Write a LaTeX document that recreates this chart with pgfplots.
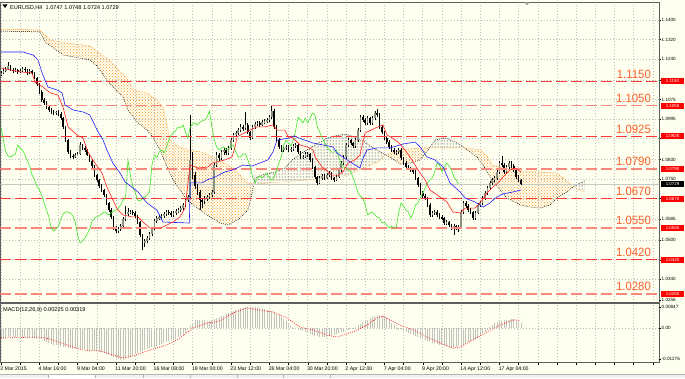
\documentclass[border=0pt]{standalone}
\usepackage{fontspec}
\setmainfont{Liberation Sans}
\usepackage{graphicx}
\usepackage{pgfplots}
\pgfplotsset{compat=1.18}
\usepackage{pgfplotstable}
\usetikzlibrary{patterns,backgrounds}

\definecolor{bg}{RGB}{255,255,240}
\definecolor{gridc}{RGB}{190,190,190}
\definecolor{tenkan}{RGB}{255,30,30}
\definecolor{kijun}{RGB}{30,30,255}
\definecolor{chikou}{RGB}{60,230,40}
\definecolor{sandy}{RGB}{245,150,40}
\definecolor{lvlred}{RGB}{255,55,55}
\definecolor{lvlpink}{RGB}{248,135,125}
\definecolor{lbl}{RGB}{252,95,40}
\definecolor{bull}{RGB}{135,145,125}
\definecolor{frame}{RGB}{95,95,95}
\definecolor{bidc}{RGB}{200,200,195}
\definecolor{histc}{RGB}{195,195,190}

% price bars (H4) and MACD main value per bar
\pgfplotstableread{
i o h l c m
0 1.1175 1.1192 1.1170 1.1183 -0.0040
1 1.1183 1.1198 1.1178 1.1192 -0.0040
2 1.1192 1.1207 1.1186 1.1200 -0.0039
3 1.1200 1.1228 1.1195 1.1212 -0.0038
4 1.1212 1.1218 1.1190 1.1196 -0.0038
5 1.1196 1.1203 1.1184 1.1192 -0.0038
6 1.1192 1.1204 1.1186 1.1196 -0.0037
7 1.1196 1.1200 1.1180 1.1188 -0.0037
8 1.1188 1.1199 1.1182 1.1192 -0.0037
9 1.1192 1.1208 1.1186 1.1200 -0.0038
10 1.1200 1.1206 1.1188 1.1196 -0.0038
11 1.1196 1.1201 1.1175 1.1188 -0.0039
12 1.1188 1.1200 1.1180 1.1192 -0.0040
13 1.1192 1.1197 1.1176 1.1183 -0.0041
14 1.1183 1.1188 1.1158 1.1163 -0.0042
15 1.1163 1.1168 1.1132 1.1138 -0.0043
16 1.1138 1.1142 1.1098 1.1106 -0.0044
17 1.1106 1.1112 1.1065 1.1073 -0.0046
18 1.1073 1.1082 1.1052 1.1061 -0.0052
19 1.1061 1.1068 1.1038 1.1044 -0.0058
20 1.1044 1.1050 1.1025 1.1032 -0.0063
21 1.1032 1.1040 1.1016 1.1024 -0.0066
22 1.1024 1.1032 1.1012 1.1020 -0.0068
23 1.1020 1.1030 1.1012 1.1024 -0.0070
24 1.1024 1.1032 1.1008 1.1016 -0.0072
25 1.1016 1.1022 1.0992 1.0999 -0.0074
26 1.0999 1.1004 1.0956 1.0963 -0.0076
27 1.0963 1.0968 1.0900 1.0909 -0.0079
28 1.0909 1.0915 1.0852 1.0860 -0.0082
29 1.0860 1.0868 1.0836 1.0844 -0.0083
30 1.0844 1.0852 1.0832 1.0840 -0.0084
31 1.0840 1.0856 1.0834 1.0848 -0.0084
32 1.0848 1.0860 1.0842 1.0852 -0.0085
33 1.0852 1.0900 1.0848 1.0889 -0.0086
34 1.0889 1.0895 1.0870 1.0877 -0.0087
35 1.0877 1.0884 1.0862 1.0869 -0.0088
36 1.0869 1.0874 1.0842 1.0848 -0.0089
37 1.0848 1.0853 1.0818 1.0824 -0.0090
38 1.0824 1.0830 1.0796 1.0803 -0.0091
39 1.0803 1.0808 1.0760 1.0766 -0.0093
40 1.0766 1.0772 1.0738 1.0746 -0.0095
41 1.0746 1.0752 1.0714 1.0721 -0.0097
42 1.0721 1.0728 1.0698 1.0705 -0.0100
43 1.0705 1.0710 1.0678 1.0685 -0.0103
44 1.0685 1.0690 1.0645 1.0652 -0.0106
45 1.0652 1.0658 1.0616 1.0623 -0.0109
46 1.0623 1.0630 1.0588 1.0595 -0.0113
47 1.0595 1.0600 1.0540 1.0549 -0.0118
48 1.0549 1.0556 1.0528 1.0537 -0.0122
49 1.0537 1.0552 1.0530 1.0545 -0.0127
50 1.0545 1.0565 1.0538 1.0558 -0.0131
51 1.0558 1.0595 1.0552 1.0586 -0.0129
52 1.0586 1.0640 1.0580 1.0607 -0.0127
53 1.0607 1.0630 1.0600 1.0615 -0.0124
54 1.0615 1.0624 1.0606 1.0615 -0.0117
55 1.0615 1.0622 1.0603 1.0611 -0.0111
56 1.0611 1.0618 1.0592 1.0599 -0.0107
57 1.0599 1.0604 1.0566 1.0574 -0.0102
58 1.0574 1.0580 1.0512 1.0521 -0.0098
59 1.0521 1.0526 1.0459 1.0488 -0.0093
60 1.0488 1.0505 1.0470 1.0496 -0.0089
61 1.0496 1.0515 1.0488 1.0508 -0.0085
62 1.0508 1.0532 1.0500 1.0525 -0.0082
63 1.0525 1.0552 1.0518 1.0545 -0.0079
64 1.0545 1.0585 1.0540 1.0578 -0.0076
65 1.0578 1.0598 1.0570 1.0590 -0.0073
66 1.0590 1.0603 1.0582 1.0595 -0.0071
67 1.0595 1.0608 1.0586 1.0599 -0.0067
68 1.0599 1.0615 1.0592 1.0607 -0.0062
69 1.0607 1.0624 1.0600 1.0615 -0.0058
70 1.0615 1.0622 1.0602 1.0611 -0.0055
71 1.0611 1.0618 1.0596 1.0603 -0.0051
72 1.0603 1.0620 1.0596 1.0611 -0.0047
73 1.0611 1.0628 1.0604 1.0619 -0.0043
74 1.0619 1.0632 1.0610 1.0623 -0.0038
75 1.0623 1.0640 1.0615 1.0631 -0.0034
76 1.0631 1.0652 1.0622 1.0644 -0.0029
77 1.0644 1.0672 1.0636 1.0664 -0.0022
78 1.0664 1.0685 1.0655 1.0676 -0.0008
79 1.0676 1.1012 1.0668 1.0828 0.0008
80 1.0828 1.0860 1.0750 1.0766 0.0022
81 1.0766 1.0780 1.0710 1.0721 0.0033
82 1.0721 1.0728 1.0685 1.0697 0.0033
83 1.0697 1.0705 1.0625 1.0664 0.0033
84 1.0664 1.0672 1.0630 1.0660 0.0032
85 1.0660 1.0680 1.0648 1.0672 0.0031
86 1.0672 1.0685 1.0660 1.0676 0.0030
87 1.0676 1.0694 1.0668 1.0685 0.0029
88 1.0685 1.0705 1.0678 1.0697 0.0031
89 1.0697 1.0815 1.0690 1.0807 0.0035
90 1.0807 1.0860 1.0798 1.0848 0.0040
91 1.0848 1.0855 1.0825 1.0836 0.0045
92 1.0836 1.0868 1.0828 1.0860 0.0048
93 1.0860 1.0877 1.0850 1.0869 0.0051
94 1.0869 1.0875 1.0848 1.0856 0.0056
95 1.0856 1.0885 1.0850 1.0877 0.0062
96 1.0877 1.0917 1.0870 1.0909 0.0067
97 1.0909 1.0938 1.0900 1.0930 0.0071
98 1.0930 1.0946 1.0922 1.0938 0.0075
99 1.0938 1.0958 1.0930 1.0950 0.0079
100 1.0950 1.0975 1.0942 1.0963 0.0082
101 1.0963 1.0970 1.0948 1.0958 0.0083
102 1.0958 1.1024 1.0950 1.0971 0.0084
103 1.0971 1.0978 1.0935 1.0942 0.0085
104 1.0942 1.0948 1.0910 1.0918 0.0086
105 1.0918 1.0970 1.0912 1.0963 0.0086
106 1.0963 1.0983 1.0955 1.0975 0.0086
107 1.0975 1.0988 1.0966 1.0979 0.0085
108 1.0979 1.0986 1.0963 1.0971 0.0083
109 1.0971 1.0991 1.0965 1.0983 0.0080
110 1.0983 1.0996 1.0975 1.0987 0.0078
111 1.0987 1.1000 1.0978 1.0991 0.0075
112 1.0991 1.1012 1.0985 1.1003 0.0072
113 1.1003 1.1048 1.0996 1.1028 0.0070
114 1.1028 1.1035 1.0955 1.0963 0.0064
115 1.0963 1.0970 1.0900 1.0909 0.0058
116 1.0909 1.0916 1.0872 1.0881 0.0052
117 1.0881 1.0888 1.0860 1.0869 0.0046
118 1.0869 1.0885 1.0862 1.0877 0.0037
119 1.0877 1.0890 1.0870 1.0881 0.0027
120 1.0881 1.0888 1.0862 1.0869 0.0016
121 1.0869 1.0882 1.0862 1.0873 0.0007
122 1.0873 1.0893 1.0866 1.0885 0.0002
123 1.0885 1.0898 1.0877 1.0889 -0.0002
124 1.0889 1.0895 1.0852 1.0860 -0.0006
125 1.0860 1.0866 1.0832 1.0840 -0.0009
126 1.0840 1.0850 1.0830 1.0840 -0.0012
127 1.0840 1.0860 1.0834 1.0852 -0.0017
128 1.0852 1.0862 1.0842 1.0852 -0.0020
129 1.0852 1.0858 1.0820 1.0828 -0.0024
130 1.0828 1.0834 1.0790 1.0799 -0.0029
131 1.0799 1.0805 1.0750 1.0758 -0.0033
132 1.0758 1.0764 1.0725 1.0734 -0.0034
133 1.0734 1.0762 1.0728 1.0754 -0.0035
134 1.0754 1.0770 1.0745 1.0762 -0.0036
135 1.0762 1.0770 1.0746 1.0754 -0.0036
136 1.0754 1.0774 1.0748 1.0766 -0.0035
137 1.0766 1.0783 1.0758 1.0774 -0.0033
138 1.0774 1.0780 1.0746 1.0754 -0.0030
139 1.0754 1.0760 1.0738 1.0746 -0.0027
140 1.0746 1.0766 1.0740 1.0758 -0.0024
141 1.0758 1.0795 1.0752 1.0787 -0.0022
142 1.0787 1.0823 1.0780 1.0815 -0.0018
143 1.0815 1.0848 1.0808 1.0840 -0.0016
144 1.0840 1.0897 1.0832 1.0889 -0.0010
145 1.0889 1.0918 1.0880 1.0909 -0.0007
146 1.0909 1.0915 1.0888 1.0897 -0.0003
147 1.0897 1.0903 1.0876 1.0885 0.0001
148 1.0885 1.0917 1.0878 1.0909 0.0005
149 1.0909 1.0958 1.0902 1.0950 0.0011
150 1.0950 1.1012 1.0942 1.1003 0.0017
151 1.1003 1.1010 1.0982 1.0991 0.0023
152 1.0991 1.0998 1.0970 1.0979 0.0029
153 1.0979 1.1008 1.0972 1.0999 0.0033
154 1.0999 1.1005 1.0972 1.0979 0.0039
155 1.0979 1.1008 1.0972 1.0999 0.0044
156 1.0999 1.1028 1.0990 1.1020 0.0047
157 1.1020 1.1036 1.1004 1.1012 0.0049
158 1.1012 1.1018 1.0955 1.0963 0.0053
159 1.0963 1.0970 1.0935 1.0942 0.0051
160 1.0942 1.0948 1.0910 1.0918 0.0049
161 1.0918 1.0926 1.0894 1.0901 0.0042
162 1.0901 1.0908 1.0874 1.0881 0.0032
163 1.0881 1.0888 1.0860 1.0869 0.0021
164 1.0869 1.0876 1.0852 1.0860 0.0011
165 1.0860 1.0870 1.0850 1.0860 0.0002
166 1.0860 1.0877 1.0852 1.0869 -0.0005
167 1.0869 1.0875 1.0828 1.0836 -0.0010
168 1.0836 1.0842 1.0808 1.0815 -0.0014
169 1.0815 1.0822 1.0792 1.0799 -0.0018
170 1.0799 1.0806 1.0786 1.0795 -0.0022
171 1.0795 1.0800 1.0780 1.0787 -0.0026
172 1.0787 1.0794 1.0772 1.0779 -0.0029
173 1.0779 1.0785 1.0746 1.0754 -0.0033
174 1.0754 1.0760 1.0718 1.0725 -0.0037
175 1.0725 1.0732 1.0685 1.0693 -0.0041
176 1.0693 1.0700 1.0672 1.0680 -0.0045
177 1.0680 1.0688 1.0664 1.0672 -0.0049
178 1.0672 1.0678 1.0636 1.0644 -0.0053
179 1.0644 1.0650 1.0595 1.0603 -0.0056
180 1.0603 1.0620 1.0596 1.0611 -0.0060
181 1.0611 1.0624 1.0603 1.0615 -0.0063
182 1.0615 1.0622 1.0596 1.0603 -0.0066
183 1.0603 1.0610 1.0588 1.0595 -0.0069
184 1.0595 1.0602 1.0582 1.0590 -0.0071
185 1.0590 1.0596 1.0562 1.0570 -0.0074
186 1.0570 1.0582 1.0562 1.0574 -0.0077
187 1.0574 1.0580 1.0554 1.0562 -0.0078
188 1.0562 1.0568 1.0540 1.0549 -0.0078
189 1.0549 1.0565 1.0521 1.0558 -0.0078
190 1.0558 1.0564 1.0540 1.0549 -0.0078
191 1.0549 1.0562 1.0532 1.0554 -0.0075
192 1.0554 1.0623 1.0548 1.0615 -0.0072
193 1.0615 1.0660 1.0608 1.0652 -0.0069
194 1.0652 1.0658 1.0632 1.0639 -0.0064
195 1.0639 1.0646 1.0615 1.0623 -0.0059
196 1.0623 1.0630 1.0608 1.0615 -0.0054
197 1.0615 1.0620 1.0582 1.0590 -0.0049
198 1.0590 1.0619 1.0584 1.0611 -0.0044
199 1.0611 1.0652 1.0605 1.0644 -0.0037
200 1.0644 1.0660 1.0636 1.0652 -0.0029
201 1.0652 1.0680 1.0645 1.0672 -0.0022
202 1.0672 1.0701 1.0665 1.0693 -0.0015
203 1.0693 1.0721 1.0686 1.0713 -0.0007
204 1.0713 1.0742 1.0706 1.0734 0.0003
205 1.0734 1.0754 1.0726 1.0746 0.0013
206 1.0746 1.0762 1.0738 1.0754 0.0020
207 1.0754 1.0787 1.0746 1.0779 0.0024
208 1.0779 1.0823 1.0772 1.0815 0.0027
209 1.0815 1.0844 1.0800 1.0807 0.0029
210 1.0807 1.0814 1.0772 1.0779 0.0031
211 1.0779 1.0807 1.0772 1.0799 0.0032
212 1.0799 1.0824 1.0792 1.0815 0.0034
213 1.0815 1.0822 1.0796 1.0803 0.0035
214 1.0803 1.0810 1.0780 1.0787 0.0037
215 1.0787 1.0794 1.0750 1.0758 0.0031
216 1.0758 1.0765 1.0738 1.0746 0.0027
217 1.0747 1.0748 1.0724 1.0729 0.0022
}\candles

% MACD signal line
\pgfplotstableread{
i s
0 -0.0041
7.9 -0.0039
16.3 -0.0037
20.5 -0.0045
27.5 -0.0069
34.2 -0.0090
41.3 -0.0094
46.7 -0.0110
50.9 -0.0122
55.1 -0.0114
62.2 -0.0090
69.3 -0.0069
74.7 -0.0041
80.1 0.0000
86.0 0.0020
91.4 0.0029
96.8 0.0061
102.7 0.0082
108.1 0.0073
113.5 0.0065
119.4 0.0041
124.8 0.0004
130.2 -0.0008
136.1 -0.0029
140.2 -0.0037
146.9 -0.0016
152.8 0.0012
156.9 0.0041
159.4 0.0049
162.4 0.0033
166.5 0.0012
172.0 -0.0008
177.8 -0.0037
183.2 -0.0061
188.6 -0.0082
191.6 -0.0078
197.0 -0.0049
202.8 -0.0016
208.3 0.0012
213.7 0.0033
217.0 0.0032
}\signal

\tikzset{tag/.style={anchor=west, fill=red, text=white, inner sep=0pt, minimum width=23pt, minimum height=6pt, font=\fontsize{4.4}{4.5}\selectfont}}

% MACD panel is drawn in the same axis: value v is placed at 1.01408 + 1.00123 v
\begin{document}
\begin{tikzpicture}[x=1pt,y=1pt]
\begin{axis}[
  width=658.5pt, height=360.7pt, scale only axis,
  xmin=-0.2, xmax=274.6,
  ymin=0.99989, ymax=1.14736,
  axis line style={draw=frame, line width=0.8pt},
  xtick={0,8,...,272},
  xticklabels={{2 Mar 2015},{},{4 Mar 16:00},{},{9 Mar 04:00},{},{11 Mar 20:00},{},{16 Mar 08:00},{},{19 Mar 00:00},{},{23 Mar 12:00},{},{26 Mar 04:00},{},{30 Mar 20:00},{},{2 Apr 12:00},{},{7 Apr 04:00},{},{9 Apr 20:00},{},{14 Apr 12:00},{},{17 Apr 04:00},{},{},{},{},{},{},{},{}},
  xtick pos=bottom, ytick pos=right, yticklabel pos=right,
  tick align=outside, major tick length=2pt,
  xtick style={draw=black, line width=0.4pt},
  ytick style={draw=black, line width=0.4pt},
  xticklabel style={font=\fontsize{5.2}{6}\selectfont, anchor=north west, inner sep=0pt, xshift=-0.8pt, yshift=-1.5pt},
  ytick={1.1400,1.1320,1.1240,1.1155,1.1075,1.0995,1.0915,1.0830,1.0750,1.0670,1.0585,1.0500,1.0420,1.0340},
  yticklabels={1.1400,1.1320,1.1240,,1.1075,1.0995,,1.0830,1.0750,,1.0585,1.0500,,1.0340},
  extra y ticks={1.0256,1.02256,1.01408,1.00130},
  extra y tick labels={1.0256,0.00847,0.00,-0.01276},
  extra y tick style={grid=none},
  yticklabel style={font=\fontsize{4.6}{5}\selectfont, anchor=west, inner sep=0.5pt},
  grid=major,
  major grid style={draw=gridc, dash pattern=on 1pt off 2pt, line width=0.5pt},
]
% --- Ichimoku cloud areas (between Senkou Span A and Span B), one area per stretch
\addplot[pattern=crosshatch dots, pattern color=sandy, draw=none, forget plot] coordinates {
(0,1.1363) (16.3,1.1359) (20.5,1.1318) (27.5,1.1306) (37.1,1.1294) (40.5,1.1269) (46.7,1.1224)
(49.7,1.1188) (52.6,1.1163) (55.1,1.1114) (60.9,1.1102) (65.1,1.1073) (67.6,1.1044) (69.3,1.0971)
(70.5,1.0909) (72.6,1.0889) (78.0,1.0869) (83.9,1.0860) (89.3,1.0836) (96.4,1.0799) (98.9,1.0774)
(103.1,1.0734) (105.55,1.0731)
(104.8,1.0693) (103.1,1.0623) (98.9,1.0582) (94.7,1.0562) (91.4,1.0570) (87.2,1.0595) (83.1,1.0623)
(77.6,1.0664) (73.9,1.0717) (71.8,1.0746) (69.3,1.0799) (66.4,1.0869) (63.4,1.0922) (60.9,1.0950)
(56.8,1.0983) (53.0,1.1032) (50.9,1.1085) (46.7,1.1126) (44.2,1.1155) (40.1,1.1212) (37.1,1.1237)
(25.9,1.1257) (18.4,1.1310) (16.3,1.1351) (0,1.1355)};
\addplot[pattern=dots, pattern color=black, draw=none, forget plot] coordinates {
(105.55,1.0731) (106.0,1.0754) (108.9,1.0766) (114.4,1.0779) (118.5,1.0795) (121.5,1.0828)
(125.6,1.0856) (129.0,1.0877) (132.3,1.0897) (136.5,1.0918) (139.4,1.0926) (143.6,1.0934)
(147.7,1.0922) (151.9,1.0901) (154.8,1.0881) (158.2,1.0860) (160.6,1.0849)
(160.3,1.0848) (157.3,1.0819) (151.1,1.0795) (144.4,1.0766) (137.3,1.0754) (128.0,1.0746) (106.0,1.0729)};
\addplot[pattern=crosshatch dots, pattern color=sandy, draw=none, forget plot] coordinates {
(160.6,1.0849) (166.5,1.0869) (174.9,1.0877) (178.8,1.0877)
(178.2,1.0869) (174.9,1.0828) (170.7,1.0815) (166.5,1.0811) (162.4,1.0840)};
\addplot[pattern=dots, pattern color=black, draw=none, forget plot] coordinates {
(178.8,1.0877) (181.1,1.0909) (185.3,1.0918) (189.5,1.0901) (192.4,1.0885) (193.5,1.0877)};
\addplot[pattern=crosshatch dots, pattern color=sandy, draw=none, forget plot] coordinates {
(193.5,1.0877) (194.5,1.0877) (199.9,1.0869) (202.8,1.0844) (204.9,1.0807) (211.2,1.0791)
(216.6,1.0783) (225.0,1.0779) (232.1,1.0774) (234.6,1.0754) (238.3,1.0725) (239.0,1.0720)
(236.2,1.0697) (232.5,1.0676) (229.1,1.0644) (225.0,1.0631) (220.8,1.0635) (216.6,1.0644)
(211.2,1.0672) (208.3,1.0705) (204.9,1.0746) (202.0,1.0795) (198.7,1.0840) (195.7,1.0860)};
\addplot[pattern=dots, pattern color=black, draw=none, forget plot] coordinates {
(239.0,1.0720) (239.6,1.0725) (243.7,1.0742) (243.7,1.0697) (240.8,1.0705)};
% Senkou Span A (black dotted)
\addplot[black, line width=0.5pt, dash pattern=on 0.8pt off 1.2pt, forget plot] coordinates {
(0,1.1355) (16.3,1.1351) (18.4,1.1310) (25.9,1.1257) (37.1,1.1237) (40.1,1.1212)
(44.2,1.1155) (46.7,1.1126) (50.9,1.1085) (53.0,1.1032) (56.8,1.0983) (60.9,1.0950)
(63.4,1.0922) (66.4,1.0869) (69.3,1.0799) (71.8,1.0746) (73.9,1.0717) (77.6,1.0664)
(83.1,1.0623) (87.2,1.0595) (91.4,1.0570) (94.7,1.0562) (98.9,1.0582) (103.1,1.0623)
(104.8,1.0693) (106.0,1.0754) (108.9,1.0766) (114.4,1.0779) (118.5,1.0795) (121.5,1.0828)
(125.6,1.0856) (129.0,1.0877) (132.3,1.0897) (136.5,1.0918) (139.4,1.0926) (143.6,1.0934)
(147.7,1.0922) (151.9,1.0901) (154.8,1.0881) (158.2,1.0860) (162.4,1.0840) (166.5,1.0811)
(170.7,1.0815) (174.9,1.0828) (178.2,1.0869) (181.1,1.0909) (185.3,1.0918) (189.5,1.0901)
(192.4,1.0885) (195.7,1.0860) (198.7,1.0840) (202.0,1.0795) (204.9,1.0746) (208.3,1.0705)
(211.2,1.0672) (216.6,1.0644) (220.8,1.0635) (225.0,1.0631) (229.1,1.0644) (232.5,1.0676)
(236.2,1.0697) (239.6,1.0725) (243.7,1.0742)};
% Senkou Span B (orange dotted)
\addplot[sandy, line width=0.5pt, dash pattern=on 0.8pt off 1.2pt, forget plot] coordinates {
(0,1.1363) (16.3,1.1359) (20.5,1.1318) (27.5,1.1306) (37.1,1.1294) (40.5,1.1269)
(46.7,1.1224) (49.7,1.1188) (52.6,1.1163) (55.1,1.1114) (60.9,1.1102) (65.1,1.1073)
(67.6,1.1044) (69.3,1.0971) (70.5,1.0909) (72.6,1.0889) (78.0,1.0869) (83.9,1.0860)
(89.3,1.0836) (96.4,1.0799) (98.9,1.0774) (103.1,1.0734) (106.0,1.0729) (128.0,1.0746)
(137.3,1.0754) (144.4,1.0766) (151.1,1.0795) (157.3,1.0819) (160.3,1.0848) (166.5,1.0869)
(174.9,1.0877) (194.5,1.0877) (199.9,1.0869) (202.8,1.0844) (204.9,1.0807) (211.2,1.0791)
(216.6,1.0783) (225.0,1.0779) (232.1,1.0774) (234.6,1.0754) (238.3,1.0725) (240.8,1.0705)
(243.7,1.0697)};

% --- current bid line
\addplot[bidc, line width=0.9pt, forget plot] coordinates {(-1,1.0729) (276,1.0729)};

% --- candles: wicks (low to high)
\addplot[draw=none, mark=none, forget plot,
  error bars/.cd, y dir=both, y explicit, error mark=none,
  error bar style={draw=black, line width=0.6pt}]
  table[x=i, y expr={(\thisrow{h}+\thisrow{l})/2}, y error expr={(\thisrow{h}-\thisrow{l})/2}] {\candles};
% bull bodies
\addplot[draw=none, mark=none, forget plot,
  error bars/.cd, y dir=both, y explicit, error mark=none,
  error bar style={draw=bull, line width=1.6pt}]
  table[x=i, y expr={(\thisrow{o}+\thisrow{c})/2}, y error expr={ifthenelse(\thisrow{c}>=\thisrow{o}, max((\thisrow{c}-\thisrow{o})/2,0.00007), 0)}] {\candles};
% bear bodies
\addplot[draw=none, mark=none, forget plot,
  error bars/.cd, y dir=both, y explicit, error mark=none,
  error bar style={draw=black, line width=1.6pt}]
  table[x=i, y expr={(\thisrow{o}+\thisrow{c})/2}, y error expr={ifthenelse(\thisrow{c}<\thisrow{o}, (\thisrow{o}-\thisrow{c})/2, 0)}] {\candles};

% --- horizontal levels
\addplot[lvlred, line width=0.9pt, dash pattern=on 11pt off 4pt, forget plot] coordinates {(-0.2,1.1150) (274.6,1.1150)};
\addplot[lvlpink, line width=1.7pt, dash pattern=on 11pt off 4pt, forget plot] coordinates {(-0.2,1.1050) (274.6,1.1050)};
\addplot[lvlred, line width=0.9pt, dash pattern=on 11pt off 4pt, forget plot] coordinates {(-0.2,1.0925) (274.6,1.0925)};
\addplot[lvlpink, line width=1.7pt, dash pattern=on 11pt off 4pt, forget plot] coordinates {(-0.2,1.0790) (274.6,1.0790)};
\addplot[lvlred, line width=0.9pt, dash pattern=on 11pt off 4pt, forget plot] coordinates {(-0.2,1.0670) (274.6,1.0670)};
\addplot[lvlpink, line width=1.7pt, dash pattern=on 11pt off 4pt, forget plot] coordinates {(-0.2,1.0550) (274.6,1.0550)};
\addplot[lvlred, line width=0.9pt, dash pattern=on 11pt off 4pt, forget plot] coordinates {(-0.2,1.0420) (274.6,1.0420)};
\addplot[lvlpink, line width=1.7pt, dash pattern=on 11pt off 4pt, forget plot] coordinates {(-0.2,1.0280) (274.6,1.0280)};

% --- Chikou span (close shifted back 26 bars)
\addplot[chikou, line width=0.6pt, forget plot, restrict x to domain=-0.5:300] table[x expr={\thisrow{i}-26}, y=c] {\candles};
% --- Kijun-sen
\addplot[kijun, line width=0.6pt, forget plot] coordinates {
(0,1.1269) (9.2,1.1269) (13.4,1.1257) (15.4,1.1237) (17.5,1.1175) (19.6,1.1126) (23.4,1.1114)
(25.5,1.1102) (26.7,1.1053) (30.1,1.1032) (34.2,1.1024) (37.1,1.1012) (40.1,1.0950) (42.6,1.0909)
(44.2,1.0869) (46.7,1.0815) (49.7,1.0774) (51.8,1.0738) (55.1,1.0713) (57.2,1.0697) (60.9,1.0652)
(65.1,1.0623) (67.6,1.0574) (78.6,1.0570) (79.0,1.0734) (83.9,1.0734) (86.0,1.0746) (89.3,1.0758)
(93.5,1.0779) (96.8,1.0787) (101.0,1.0807) (104.8,1.0803) (109.3,1.0820) (111.4,1.0828) (113.5,1.0860)
(115.2,1.0909) (120.6,1.0918) (121.9,1.0926) (130.2,1.0897) (138.6,1.0881) (140.2,1.0856) (145.7,1.0820)
(149.8,1.0795) (151.1,1.0836) (152.8,1.0869) (156.9,1.0877) (162.4,1.0877) (167.8,1.0893) (172.8,1.0901)
(174.9,1.0881) (177.8,1.0840) (181.1,1.0828) (184.5,1.0799) (187.4,1.0734) (191.6,1.0697) (193.7,1.0672)
(197.8,1.0656) (201.2,1.0635) (204.1,1.0652) (206.2,1.0672) (209.5,1.0689) (213.7,1.0697) (217.0,1.0705)};
% --- Tenkan-sen
\addplot[tenkan, line width=0.6pt, forget plot] coordinates {
(0,1.1204) (3.8,1.1196) (7.9,1.1188) (12.9,1.1183) (14.2,1.1147) (17.5,1.1126) (20.5,1.1102)
(23.8,1.1093) (25.9,1.1044) (28.0,1.0963) (31.7,1.0930) (34.2,1.0918) (36.3,1.0860) (39.2,1.0815)
(42.2,1.0774) (44.2,1.0717) (46.7,1.0664) (48.8,1.0623) (50.9,1.0603) (54.7,1.0595) (57.2,1.0595)
(59.3,1.0574) (62.2,1.0549) (66.4,1.0549) (69.3,1.0562) (71.8,1.0574) (74.7,1.0595) (76.8,1.0631)
(78.9,1.0807) (82.2,1.0795) (86.4,1.0799) (88.1,1.0815) (93.5,1.0828) (96.4,1.0840) (97.7,1.0881)
(98.5,1.0922) (103.9,1.0950) (106.8,1.0963) (110.2,1.0963) (113.5,1.0971) (115.2,1.0950) (118.5,1.0950)
(119.8,1.0922) (121.9,1.0918) (124.8,1.0889) (127.7,1.0881) (130.2,1.0869) (131.1,1.0840) (134.0,1.0799)
(138.1,1.0766) (140.7,1.0766) (142.7,1.0779) (144.8,1.0815) (147.7,1.0828) (149.8,1.0848) (151.9,1.0938)
(156.1,1.0958) (159.4,1.0971) (161.1,1.0930) (163.2,1.0918) (165.7,1.0901) (168.6,1.0869) (171.5,1.0828)
(174.0,1.0787) (177.0,1.0746) (179.0,1.0705) (182.0,1.0685) (186.1,1.0656) (188.6,1.0615) (191.6,1.0611)
(193.7,1.0631) (197.8,1.0631) (200.8,1.0664) (202.8,1.0693) (205.3,1.0717) (207.4,1.0734) (209.5,1.0758)
(212.4,1.0787) (214.5,1.0795) (217.0,1.0779)};

% --- separator between price window and MACD window; MACD zero line
\draw[frame, line width=2.2pt] (axis cs:-0.2,1.02436) -- (axis cs:274.6,1.02436);
\draw[gridc, dash pattern=on 1pt off 2pt, line width=0.5pt] (axis cs:-0.2,1.01408) -- (axis cs:274.6,1.01408);

% --- MACD histogram (main line) and signal line
\addplot[draw=none, mark=none, forget plot,
  error bars/.cd, y dir=both, y explicit, error mark=none,
  error bar style={draw=histc, line width=0.9pt}]
  table[x=i, y expr={1.01408+1.00123*\thisrow{m}/2}, y error expr={abs(1.00123*\thisrow{m})/2}] {\candles};
\addplot[red, line width=0.6pt, dash pattern=on 0.9pt off 1.3pt, forget plot]
  table[x=i, y expr={1.01408+1.00123*\thisrow{s}}] {\signal};

% --- level captions
\node[anchor=base east, inner sep=0pt, text=lbl, font=\fontsize{12}{13}\selectfont, yshift=3pt] at (axis cs:271.3,1.1150) {\scalebox{0.95}[1]{1.1150}};
\node[anchor=base east, inner sep=0pt, text=lbl, font=\fontsize{12}{13}\selectfont, yshift=3.5pt] at (axis cs:271.3,1.1050) {\scalebox{0.95}[1]{1.1050}};
\node[anchor=base east, inner sep=0pt, text=lbl, font=\fontsize{12}{13}\selectfont, yshift=3pt] at (axis cs:271.3,1.0925) {\scalebox{0.95}[1]{1.0925}};
\node[anchor=base east, inner sep=0pt, text=lbl, font=\fontsize{12}{13}\selectfont, yshift=3.5pt] at (axis cs:271.3,1.0790) {\scalebox{0.95}[1]{1.0790}};
\node[anchor=base east, inner sep=0pt, text=lbl, font=\fontsize{12}{13}\selectfont, yshift=3pt] at (axis cs:271.3,1.0670) {\scalebox{0.95}[1]{1.0670}};
\node[anchor=base east, inner sep=0pt, text=lbl, font=\fontsize{12}{13}\selectfont, yshift=3.5pt] at (axis cs:271.3,1.0550) {\scalebox{0.95}[1]{1.0550}};
\node[anchor=base east, inner sep=0pt, text=lbl, font=\fontsize{12}{13}\selectfont, yshift=3pt] at (axis cs:271.3,1.0420) {\scalebox{0.95}[1]{1.0420}};
\node[anchor=base east, inner sep=0pt, text=lbl, font=\fontsize{12}{13}\selectfont, yshift=3.5pt] at (axis cs:271.3,1.0280) {\scalebox{0.95}[1]{1.0280}};

% --- window texts
\node[anchor=north west, inner sep=0pt, font=\fontsize{5.6}{6}\selectfont, xshift=9.5pt, yshift=-3pt] at (rel axis cs:0,1) {EURUSD,H4\ \ 1.0747 1.0748 1.0724 1.0729};
\node[anchor=north west, inner sep=0pt, font=\fontsize{5.6}{6}\selectfont] at (axis cs:0.8,1.0227) {MACD(12,26,9) 0.00225 0.00319};

% --- anchors
\coordinate (LL) at (rel axis cs:0,0);
\coordinate (t1) at (axis cs:274.6,1.1150);
\coordinate (t2) at (axis cs:274.6,1.1050);
\coordinate (t3) at (axis cs:274.6,1.0925);
\coordinate (t4) at (axis cs:274.6,1.0790);
\coordinate (t5) at (axis cs:274.6,1.0729);
\coordinate (t6) at (axis cs:274.6,1.0670);
\coordinate (t7) at (axis cs:274.6,1.0550);
\coordinate (t8) at (axis cs:274.6,1.0420);
\coordinate (t9) at (axis cs:274.6,1.0280);
\end{axis}

\node[tag] at ([xshift=1.8pt]t1) {1.1150};
\node[tag] at ([xshift=1.8pt]t2) {1.1050};
\node[tag] at ([xshift=1.8pt]t3) {1.0925};
\node[tag] at ([xshift=1.8pt]t4) {1.0790};
\node[tag, fill=black] at ([xshift=1.8pt]t5) {1.0729};
\node[tag] at ([xshift=1.8pt]t6) {1.0670};
\node[tag] at ([xshift=1.8pt]t7) {1.0550};
\node[tag] at ([xshift=1.8pt]t8) {1.0420};
\node[tag] at ([xshift=1.8pt]t9) {1.0280};

% page: 685 x 378 around the axis box
\coordinate (P) at ([xshift=-0.5pt,yshift=-15.3pt]LL);
\begin{scope}[shift={(P)}]
  \fill[black] (2.5,373.5) -- (7.5,373.5) -- (5,370) -- cycle;
  \fill[gray!70] (524.5,375.5) -- (529.5,375.5) -- (527,372.5) -- cycle;
  \fill[gray!12] (0,0) rectangle (685,3.5);
  \draw[gray!60, line width=0.4pt] (0,3.5) -- (685,3.5);
  \fill[white] (48,0) rectangle (95,3.5);
  \draw[gray!60, line width=0.4pt] (48,0) -- (48,3.5) (95,0)--(95,3.5) (143,0)--(143,3.5) (190,0)--(190,3.5) (237,0)--(237,3.5) (283,0)--(283,3.5) (330,0)--(330,3.5);
\end{scope}
\begin{scope}[on background layer]
  \fill[bg] (P) rectangle ++(685,378);
\end{scope}
\pgfresetboundingbox
\useasboundingbox (P) rectangle ++(685,378);
\end{tikzpicture}
\end{document}
